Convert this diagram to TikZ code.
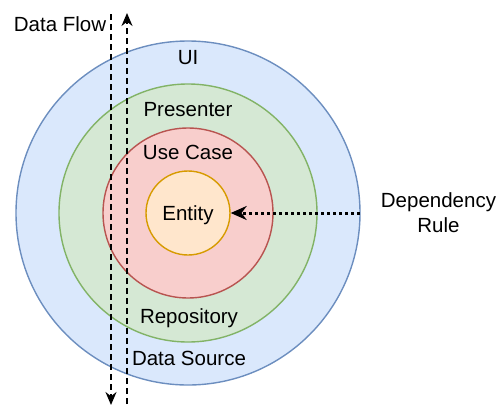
\documentclass[tikz,border=0pt]{standalone}
\usepackage{fontspec}
\setmainfont{Liberation Sans}
\usetikzlibrary{arrows.meta}
\definecolor{uifill}{HTML}{DAE8FC}\definecolor{uiline}{HTML}{6C8EBF}
\definecolor{prfill}{HTML}{D5E8D4}\definecolor{prline}{HTML}{82B366}
\definecolor{ucfill}{HTML}{F8CECC}\definecolor{ucline}{HTML}{B85450}
\definecolor{enfill}{HTML}{FFE6CC}\definecolor{enline}{HTML}{D79B00}
\tikzset{
  ring/.style={circle, line width=1.4pt, inner sep=0pt},
  lbl/.style={font=\fontsize{20.5}{27}\selectfont, inner sep=0pt, anchor=base},
  flow/.style={line width=1.5pt, dash pattern=on 6pt off 4pt, -{Stealth[length=13pt,width=11pt]}},
  dep/.style={line width=3pt, dash pattern=on 3pt off 3pt, -{Stealth[length=16pt,width=14pt]}}
}
\begin{document}
\begin{tikzpicture}[x=1pt,y=-1pt]
\useasboundingbox (0,0) rectangle (499,405);
% nested layers
\node[ring, draw=uiline, fill=uifill, minimum size=344pt] (ui) at (188,213) {};
\node[ring, draw=prline, fill=prfill, minimum size=258pt] (pr) at (188,213) {};
\node[ring, draw=ucline, fill=ucfill, minimum size=170pt] (uc) at (188,213) {};
\node[ring, draw=enline, fill=enfill, minimum size=84pt] (en) at (188,213) {};
% layer labels (placed by baseline)
\node[lbl] (tui) at (188,64.5) {UI};
\node[lbl] (tpr) at (188,116) {Presenter};
\node[lbl] (tuc) at (188,159.5) {Use Case};
\node[lbl] (ten) at (188,220.5) {Entity};
\node[lbl] (trp) at (189,323.5) {Repository};
\node[lbl] (tds) at (189,365) {Data Source};
% data flow arrows
\coordinate (dtop) at (111,14);
\coordinate (dbot) at (111,405);
\coordinate (utop) at (127,13);
\coordinate (ubot) at (127,404);
\draw[flow] (dtop) -- (dbot);
\draw[flow] (ubot) -- (utop);
\node[lbl] (tflow) at (60,31) {Data Flow};
% dependency rule arrow
\coordinate (dstart) at (360,213);
\draw[dep] (dstart) -- (en.east);
\node[lbl] (tdep1) at (438.5,207.5) {Dependency};
\node[lbl] (tdep2) at (438.5,232.5) {Rule};
\end{tikzpicture}
\end{document}
